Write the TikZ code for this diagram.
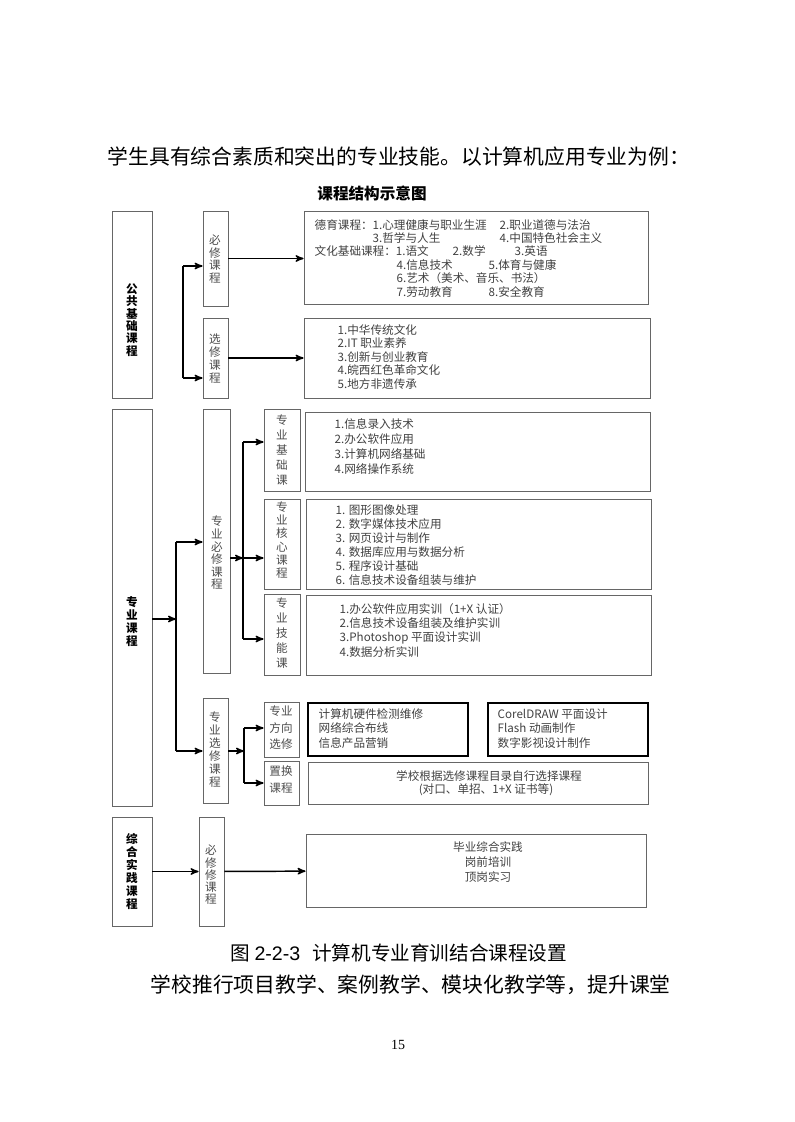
\documentclass[tikz,border=0pt]{standalone}
\usepackage{fontspec}
\setmainfont{Liberation Serif}
\setsansfont{Liberation Sans}
\newfontfamily\cjk{Noto Sans CJK SC}
\usetikzlibrary{arrows,fit}

\begin{document}
\begin{tikzpicture}[x=0.75pt,y=-0.75pt,>=stealth',line width=1.1pt]
  \tikzstyle{box}=[draw=black!60,line width=0.7pt,inner sep=0pt]
  \tikzstyle{heavy}=[draw=black,line width=1.4pt,inner sep=0pt]
  \tikzstyle{txt}=[anchor=west,inner sep=0pt,text=black!75,
                   font=\cjk\fontsize{8.7}{10}\selectfont]
  \tikzstyle{mid}=[txt,anchor=center]
  \tikzstyle{bigtxt}=[anchor=west,inner sep=0pt,font=\cjk\fontsize{15.6}{18}\selectfont]
  \tikzset{vert/.style={inner sep=0pt,align=center,text=black!70,
                        font=\cjk\fontsize{8.7}{#1}\selectfont},
           boldvert/.style={vert=#1,text=black,font=\cjk\bfseries\fontsize{8.7}{#1}\selectfont}}
  \useasboundingbox (0,0) rectangle (794,1122);

  % running text
  \node[bigtxt] (intro) at (107,157) {学生具有综合素质和突出的专业技能。以计算机应用专业为例：};
  \node[inner sep=0pt,font=\cjk\bfseries\fontsize{11.7}{14}\selectfont] (title) at (372,193) {课程结构示意图};

  % public basic courses
  \node[box,fit={(112,211) (152,398)}] (pub) {};
  \node[box,fit={(203,211) (228,306)}] (pubreq) {};
  \node[box,fit={(203,318) (228,398)}] (pubopt) {};
  \node[box,fit={(304,211) (648,304)}] (reqlist) {};
  \node[box,fit={(304,318) (650,398)}] (optlist) {};
  \node[boldvert=9.3] (pubt) at (132,320) {公\\共\\基\\础\\课\\程};
  \node[vert=9.6] (pubreqt) at (215,259) {必\\修\\课\\程};
  \node[vert=9.75] (puboptt) at (215,359) {选\\修\\课\\程};

  \node[txt] (d1) at (314,225) {德育课程：1.心理健康与职业生涯};
  \node[txt] (d2) at (499,225) {2.职业道德与法治};
  \node[txt] (d3) at (372,238) {3.哲学与人生};
  \node[txt] (d4) at (499,238) {4.中国特色社会主义};
  \node[txt] (w1) at (314,251) {文化基础课程：1.语文};
  \node[txt] (w2) at (452,251) {2.数学};
  \node[txt] (w3) at (514,251) {3.英语};
  \node[txt] (w4) at (396,265) {4.信息技术};
  \node[txt] (w5) at (488,265) {5.体育与健康};
  \node[txt] (w6) at (396,278) {6.艺术（美术、音乐、书法）};
  \node[txt] (w7) at (396,292) {7.劳动教育};
  \node[txt] (w8) at (488,292) {8.安全教育};
  \foreach \t [count=\i] in {1.中华传统文化,2.IT 职业素养,3.创新与创业教育,4.皖西红色革命文化,5.地方非遗传承}
    \node[txt] (o\i) at (337,{330+13.5*(\i-1)}) {\t};

  % professional courses
  \node[box,fit={(112,409) (152,806)}] (pro) {};
  \node[box,fit={(203,409) (230,673)}] (proreq) {};
  \node[box,fit={(264,409) (300,491)}] (base) {};
  \node[box,fit={(264,499) (300,589)}] (core) {};
  \node[box,fit={(264,594) (300,675)}] (skill) {};
  \node[box,fit={(305,412) (650,491)}] (baselist) {};
  \node[box,fit={(306,499) (651,589)}] (corelist) {};
  \node[box,fit={(306,595) (651,675)}] (skilllist) {};
  \node[box,fit={(203,698) (228,803)}] (proopt) {};
  \node[box,fit={(264,702) (299,757)}] (dir) {};
  \node[box,fit={(264,761) (299,805)}] (swap) {};
  \node[heavy,fit={(308,703) (468,756)}] (dirA) {};
  \node[heavy,fit={(488,703) (648,756)}] (dirB) {};
  \node[box,fit={(308,762) (648,804)}] (swaplist) {};
  \node[boldvert=9.75] (prot) at (132,622) {专\\业\\课\\程};
  \node[vert=9.45] (proreqt) at (217,553) {专\\业\\必\\修\\课\\程};
  \node[vert=11.25] (baset) at (282,450) {专\\业\\基\\础\\课};
  \node[vert=10] (coret) at (282,540) {专\\业\\核\\心\\课\\程};
  \node[vert=11.25] (skillt) at (282,633) {专\\业\\技\\能\\课};
  \node[vert=9.75] (proroptt) at (215,750) {专\\业\\选\\修\\课\\程};
  \node[vert=12.4] (dirt) at (281,728) {专业\\方向\\选修};
  \node[vert=12.75] (swapt) at (281,779.5) {置换\\课程};

  \foreach \t [count=\i] in {1.信息录入技术,2.办公软件应用,3.计算机网络基础,4.网络操作系统}
    \node[txt] (b\i) at (334,{424+15*(\i-1)}) {\t};
  \foreach \t [count=\i] in {1. 图形图像处理,2. 数字媒体技术应用,3. 网页设计与制作,4. 数据库应用与数据分析,5. 程序设计基础,6. 信息技术设备组装与维护}
    \node[txt] (c\i) at (335,{510+14*(\i-1)}) {\t};
  \foreach \t [count=\i] in {1.办公软件应用实训（1+X 认证）,2.信息技术设备组装及维护实训,3.Photoshop 平面设计实训,4.数据分析实训}
    \node[txt] (s\i) at (339,{609+14.4*(\i-1)}) {\t};
  \foreach \t [count=\i] in {计算机硬件检测维修,网络综合布线,信息产品营销}
    \node[txt] (a\i) at (318,{714+14.5*(\i-1)}) {\t};
  \foreach \t [count=\i] in {CorelDRAW 平面设计,Flash 动画制作,数字影视设计制作}
    \node[txt] (f\i) at (497,{714+14.5*(\i-1)}) {\t};
  \node[mid] (sw1) at (489,776) {学校根据选修课程目录自行选择课程};
  \node[mid] (sw2) at (486,790) {(对口、单招、1+X 证书等)};

  % practice courses
  \node[box,fit={(112,817) (152,926)}] (prac) {};
  \node[box,fit={(199,817) (224,926)}] (pracreq) {};
  \node[box,fit={(306,834) (646,907)}] (praclist) {};
  \node[boldvert=9.75] (pract) at (132,872) {综\\合\\实\\践\\课\\程};
  \node[vert=9.2] (pracreqt) at (211,875) {必\\修\\修\\课\\程};
  \node[mid] (p1) at (488,847) {毕业综合实践};
  \node[mid] (p2) at (488,862) {岗前培训};
  \node[mid] (p3) at (488,877) {顶岗实习};

  % connectors
  \coordinate (j1t) at (183,266);
  \coordinate (j1b) at (183,378);
  \coordinate (j2t) at (176,542);
  \coordinate (j2m) at (176,619);
  \coordinate (j2b) at (176,751);
  \coordinate (j3t) at (243,442);
  \coordinate (j3m) at (243,558);
  \coordinate (j3b) at (243,639);
  \coordinate (j4t) at (244,728);
  \coordinate (j4m) at (244,751);
  \coordinate (j4b) at (244,783);
  \draw (j1t) -- (j1b) (j2t) -- (j2b) (j3t) -- (j3b) (j4t) -- (j4b);
  \path[->]
  (j1t) edge (j1t -| pubreq.west)
  (j1b) edge (j1b -| pubopt.west)
  (pubreq) edge (pubreq -| reqlist.west)
  (pubopt) edge (pubopt -| optlist.west)
  (j2m -| pro.east) edge (j2m)
  (j2t) edge (j2t -| proreq.west)
  (j2b) edge (j2b -| proopt.west)
  (j3m -| proreq.east) edge (j3m)
  (j3t) edge (j3t -| base.west)
  (j3m) edge (j3m -| core.west)
  (j3b) edge (j3b -| skill.west)
  (j4m -| proopt.east) edge (j4m)
  (j4t) edge (j4t -| dir.west)
  (j4b) edge (j4b -| swap.west)
  (prac) edge (pracreq)
  (pracreq) edge (praclist);

  % caption and running text
  \node[inner sep=0pt,font=\fontsize{14.7}{17}\selectfont] (cap) at (399,953)
    {\cjk 图\hspace{3pt}\sffamily 2-2-3\hspace{9pt}\cjk 计算机专业育训结合课程设置};
  \node[bigtxt] (outro) at (150,985) {学校推行项目教学、案例教学、模块化教学等，提升课堂};
  \node[inner sep=0pt,font=\fontsize{10.5}{12}\selectfont] (page) at (398,1045) {15};
\end{tikzpicture}
\end{document}
